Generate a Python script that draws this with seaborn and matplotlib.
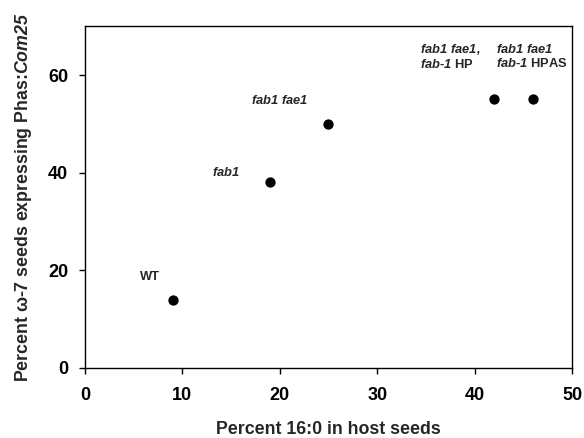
import matplotlib
matplotlib.use("Agg")
import matplotlib.pyplot as plt
import seaborn as sns
import pandas as pd

# data
pct_160 = [9, 19, 25, 42, 46]
pct_omega7 = [14, 38, 50, 55, 55]
point_names = ["WT", "fab1", "fab1 fae1", "fab1 fae1, fab-1 HP", "fab1 fae1 fab-1 HPAS"]

x_ticks = [0, 10, 20, 30, 40, 50]
y_ticks = [0, 20, 40, 60]

df = pd.DataFrame({"x": pct_160, "y": pct_omega7, "name": point_names})

sns.set_style("ticks")
plt.rcParams["font.family"] = ["Liberation Sans", "DejaVu Sans"]
plt.rcParams["font.weight"] = "bold"
# math parts are the italic pieces (gene names), digits included
plt.rcParams["mathtext.fontset"] = "custom"
plt.rcParams["mathtext.rm"] = "Liberation Sans:italic:bold"
plt.rcParams["mathtext.it"] = "Liberation Sans:italic:bold"
plt.rcParams["mathtext.bf"] = "Liberation Sans:italic:bold"

fig = plt.figure(figsize=(5.84, 4.38), dpi=100)
ax = fig.add_axes([0.1455, 0.160, 0.834, 0.780])

sns.scatterplot(data=df, x="x", y="y", color="black", s=55, edgecolor="black",
                linewidth=0, ax=ax, legend=False)

ax.set_xlim(0, 50)
ax.set_ylim(0, 70)
ax.set_xticks(x_ticks)
ax.set_yticks(y_ticks)
ax.tick_params(direction="out", length=4, width=1, labelsize=13, colors="black")
ax.tick_params(axis="x", pad=10)
ax.tick_params(axis="y", pad=8)
for lab in ax.get_xticklabels() + ax.get_yticklabels():
    lab.set_fontweight("bold")
for sp in ax.spines.values():
    sp.set_linewidth(1)
    sp.set_color("black")

ax.set_xlabel("Percent 16:0 in host seeds", fontsize=12.8, fontweight="bold", labelpad=12)
ax.set_ylabel("Percent \u03c9-7 seeds expressing Phas:$Com25$",
              fontsize=12.8, fontweight="bold", labelpad=10)

# point labels: italic bits go through mathtext
label_texts = [
    "WT",
    "$fab1$",
    "$fab1\\ fae1$",
    "$fab1\\ fae1,$\n$fab$-$1$ HP",
    "$fab1\\ fae1$\n$fab$-$1$ HPAS",
]
offsets = [(-16, 16), (-32, 7), (-35, 17), (-53, 31), (-27, 31)]
aligns = ["center", "center", "center", "left", "left"]

for xv, yv, txt, off, ha in zip(pct_160, pct_omega7, label_texts, offsets, aligns):
    ax.annotate(txt, (xv, yv), xytext=off, textcoords="offset points",
                ha=ha, va="center", fontsize=9.3, fontweight="bold",
                linespacing=1.15)

fig.savefig("out.png", dpi=100)
